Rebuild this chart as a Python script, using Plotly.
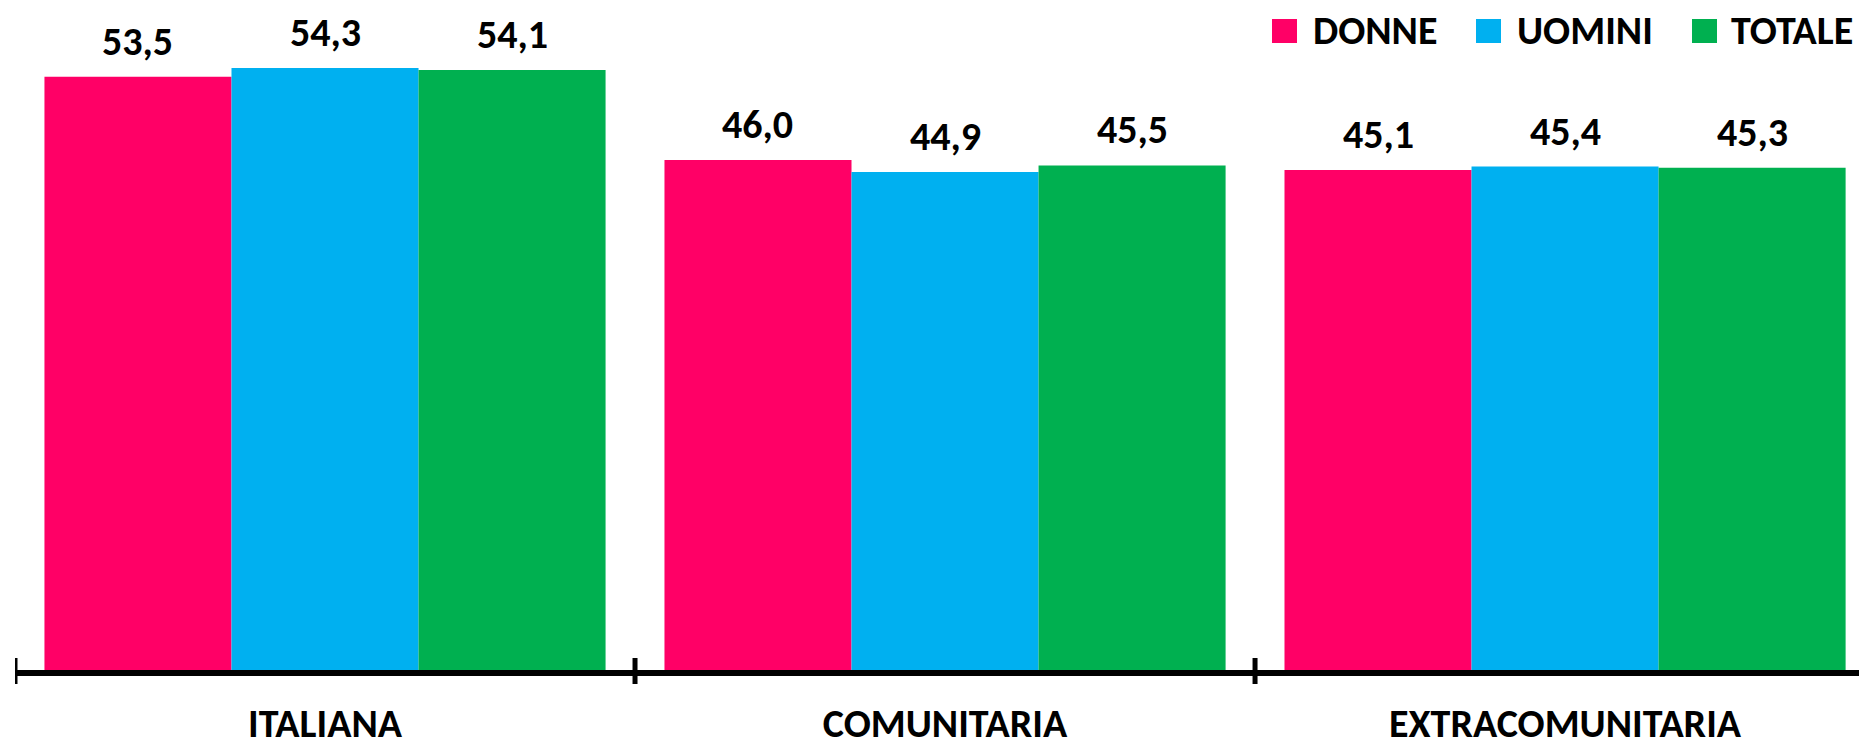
import plotly.graph_objects as go

categorie = ["ITALIANA", "COMUNITARIA", "EXTRACOMUNITARIA"]
serie = ["DONNE", "UOMINI", "TOTALE"]
donne = [53.5, 46.0, 45.1]
uomini = [54.3, 44.9, 45.4]
totale = [54.1, 45.5, 45.3]

colori = ["#FF0066", "#00B0F0", "#00B050"]
FONT = "Carlito, Liberation Sans Narrow, Arial Narrow, Liberation Sans, sans-serif"

# the page body has an 8px margin, so the figure is drawn 8px smaller
OFF = 8
W, H = 1867 - OFF, 741 - OFF
L, R, T, B = 7, 0, 0, 71
BARGAP = 0.095


def px_x(p):
    # screen pixel -> paper (x)
    return (p - OFF - L) / (W - L - R)


def px_y(p):
    # screen pixel (from top) -> paper (y)
    return (H - B - (p - OFF)) / (H - T - B)


fig = go.Figure()
valori_serie = [donne, uomini, totale]
for nome, valori, colore in zip(serie, valori_serie, colori):
    fig.add_trace(go.Bar(
        x=categorie, y=valori, name=nome,
        marker=dict(color=colore, line=dict(width=0)),
        showlegend=False,
    ))

# etichette dei valori sopra le barre
w = (1 - BARGAP) / len(serie)
for k, valori in enumerate(valori_serie):
    for i, v in enumerate(valori):
        fig.add_annotation(
            x=i - (1 - BARGAP) / 2 + w * (k + 0.5), y=v, xref="x", yref="y",
            text=f"{v:.1f}".replace(".", ","), showarrow=False,
            yanchor="bottom", yshift=9,
            font=dict(size=40, color="black", family=FONT, weight="bold"),
        )

# legenda disegnata a mano (quadrati grandi)
leg_sq = [1272, 1476, 1692]
leg_txt = [1311, 1515, 1729]
for nome, colore, xs, xt in zip(serie, colori, leg_sq, leg_txt):
    fig.add_shape(type="rect", xref="paper", yref="paper",
                  x0=px_x(xs), x1=px_x(xs + 25), y0=px_y(43), y1=px_y(19),
                  fillcolor=colore, line=dict(width=0))
    fig.add_annotation(xref="paper", yref="paper", x=px_x(xt), y=px_y(31),
                       xanchor="left", yanchor="middle", text=nome, showarrow=False,
                       font=dict(size=40, color="black", family=FONT, weight="bold"))

# tacche dell'asse che attraversano la linea
for b in [-0.5, 0.5, 1.5]:
    fig.add_shape(type="line", xref="x", yref="paper", x0=b, x1=b,
                  y0=px_y(684), y1=px_y(658), line=dict(color="black", width=5))

fig.update_layout(
    width=W, height=H,
    margin=dict(l=L, r=R, t=T, b=B),
    barmode="group", bargap=BARGAP, bargroupgap=0,
    paper_bgcolor="white", plot_bgcolor="white",
    showlegend=False,
    font=dict(family=FONT, color="black"),
)
fig.update_xaxes(
    range=[-0.5, 2.487], showline=True, linewidth=6, linecolor="black",
    ticks="", showgrid=False, zeroline=False, automargin=False,
    tickfont=dict(size=40, color="black", family=FONT, weight="bold"),
    ticklabelstandoff=13,
)
fig.update_yaxes(visible=False, range=[0, 59.7], automargin=False)

fig.write_html("out.html")
